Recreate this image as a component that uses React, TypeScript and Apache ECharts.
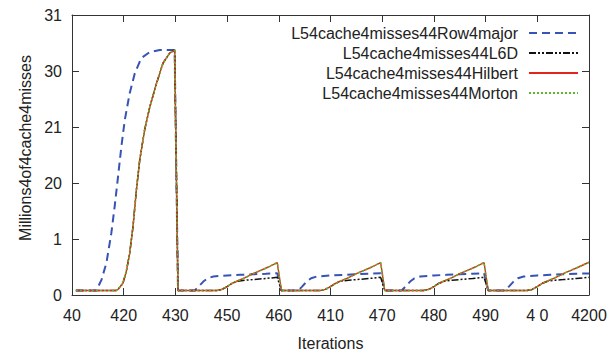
import React, { useEffect, useRef } from "react";
import * as echarts from "echarts";

const iterTickLabels = ["40", "420", "430", "450", "460", "410", "470", "480", "490", "4 0", "4200"];
const missTickLabels = ["0", "1", "20", "21", "30", "31"];
const seriesNames = [
  "L54cache4misses44Row4major",
  "L54cache4misses44L6D",
  "L54cache4misses44Hilbert",
  "L54cache4misses44Morton",
];

const rowMajor: number[][] = [
  [1.5, 0.8], [9.4, 0.8], [11.4, 2.7], [13.3, 5.7], [15.2, 11.0], [16.5, 15.8], [17.8, 21.1], [19.1, 26.5],
  [20.4, 31.2], [22.3, 36.0], [24.3, 39.6], [26.8, 42.3], [30.1, 43.4], [34.0, 43.75], [39.7, 43.75],
  [41, 0.8], [47.5, 0.8], [49, 1.5], [50.8, 2.4], [52.5, 3.0], [54.7, 3.3], [60, 3.5], [65, 3.6], [70, 3.7], [75, 3.8], [79.4, 3.9],
  [81, 0.8], [87.5, 0.8], [89, 1.5], [90.8, 2.4], [92.5, 3.0], [94.7, 3.3], [100, 3.5], [105, 3.6], [110, 3.7], [115, 3.8], [119.4, 3.9],
  [121, 0.8], [127.5, 0.8], [129, 1.5], [130.8, 2.4], [132.5, 3.0], [134.7, 3.3], [140, 3.5], [145, 3.6], [150, 3.7], [155, 3.8], [159.4, 3.9],
  [161, 0.8], [167.5, 0.8], [169, 1.5], [170.8, 2.4], [172.5, 3.0], [174.7, 3.3], [180, 3.5], [185, 3.6], [190, 3.7], [195, 3.8], [200, 3.85],
];

const l6d: number[][] = [
  [1.5, 0.8], [17.0, 0.8], [17.8, 1.0], [19.7, 2.1], [21.0, 4.2], [22.3, 7.4], [23.6, 12.2], [24.9, 18.7],
  [26.2, 24.1], [28.1, 29.5], [30.1, 33.6], [32.7, 37.8], [35.2, 41.4], [37.8, 43.2], [39.7, 43.75],
  [41, 0.8], [56, 0.8], [58, 1.0], [60, 1.5], [62, 2.1], [64, 2.45], [67, 2.65], [70, 2.75], [75, 2.95], [79.4, 3.15],
  [81, 0.8], [96, 0.8], [98, 1.0], [100, 1.5], [102, 2.1], [104, 2.45], [107, 2.65], [110, 2.75], [115, 2.95], [119.4, 3.15],
  [121, 0.8], [136, 0.8], [138, 1.0], [140, 1.5], [142, 2.1], [144, 2.45], [147, 2.65], [150, 2.75], [155, 2.95], [159.4, 3.15],
  [161, 0.8], [176, 0.8], [178, 1.0], [180, 1.5], [182, 2.1], [184, 2.45], [187, 2.65], [190, 2.75], [195, 2.95], [200, 3.15],
];

const hilbert: number[][] = [
  [1.5, 0.8], [17.0, 0.8], [17.8, 1.0], [19.7, 2.1], [21.0, 4.2], [22.3, 7.4], [23.6, 12.2], [24.9, 18.7],
  [26.2, 24.1], [28.1, 29.5], [30.1, 33.6], [32.7, 37.8], [35.2, 41.4], [37.8, 43.2], [39.7, 43.75],
  [41, 0.8], [56, 0.8], [58, 1.0], [60, 1.5], [62, 2.1], [64, 2.5], [67, 3.1], [70, 3.8], [73, 4.4], [76, 5.0], [79.4, 5.8],
  [81, 0.8], [96, 0.8], [98, 1.0], [100, 1.5], [102, 2.1], [104, 2.5], [107, 3.1], [110, 3.8], [113, 4.4], [116, 5.0], [119.4, 5.8],
  [121, 0.8], [136, 0.8], [138, 1.0], [140, 1.5], [142, 2.1], [144, 2.5], [147, 3.1], [150, 3.8], [153, 4.4], [156, 5.0], [159.4, 5.8],
  [161, 0.8], [176, 0.8], [178, 1.0], [180, 1.5], [182, 2.1], [184, 2.5], [187, 3.1], [190, 3.8], [193, 4.4], [196, 5.0], [200, 5.85],
];

const morton: number[][] = [
  [1.5, 0.8], [17.0, 0.8], [17.8, 1.0], [19.7, 2.1], [21.0, 4.2], [22.3, 7.4], [23.6, 12.2], [24.9, 18.7],
  [26.2, 24.1], [28.1, 29.5], [30.1, 33.6], [32.7, 37.8], [35.2, 41.4], [37.8, 43.2], [39.7, 43.75],
  [41, 0.8], [56, 0.8], [58, 1.0], [60, 1.5], [62, 2.1], [64, 2.5], [67, 3.1], [70, 3.8], [73, 4.4], [76, 5.0], [79.4, 5.8],
  [81, 0.8], [96, 0.8], [98, 1.0], [100, 1.5], [102, 2.1], [104, 2.5], [107, 3.1], [110, 3.8], [113, 4.4], [116, 5.0], [119.4, 5.8],
  [121, 0.8], [136, 0.8], [138, 1.0], [140, 1.5], [142, 2.1], [144, 2.5], [147, 3.1], [150, 3.8], [153, 4.4], [156, 5.0], [159.4, 5.8],
  [161, 0.8], [176, 0.8], [178, 1.0], [180, 1.5], [182, 2.1], [184, 2.5], [187, 3.1], [190, 3.8], [193, 4.4], [196, 5.0], [200, 5.85],
];

const FONT = "Liberation Sans";
const AXIS_COLOR = "#333";
const TEXT_COLOR = "#222";

export default function App() {
  const ref = useRef<HTMLDivElement>(null);
  useEffect(() => {
    if (!ref.current) return;
    const chart = echarts.init(ref.current, undefined, { renderer: "svg" });
    const seriesStyles = [
      { color: "#3653b5", width: 2, type: [8, 5] as any },
      { color: "#111111", width: 1.5, type: [7, 2, 2, 2, 2, 2] as any },
      { color: "#e3241c", width: 1.4, type: "solid" as any },
      { color: "#5cb82a", width: 1.6, type: [2, 2] as any },
    ];
    const datas = [rowMajor, l6d, hilbert, morton];
    const tickCommon = { show: true, inside: true, length: 7, lineStyle: { color: AXIS_COLOR, width: 1 } };
    const lineCommon = { show: true, onZero: false, lineStyle: { color: AXIS_COLOR, width: 1 } };
    chart.setOption({
      animation: false,
      backgroundColor: "#ffffff",
      textStyle: { fontFamily: FONT },
      grid: { left: 72, right: 24, top: 15, bottom: 61, containLabel: false },
      legend: seriesNames.map((n, i) => ({
        data: [n],
        right: 34,
        top: 25 + 20 * i,
        orient: "horizontal",
        align: "right",
        itemWidth: 49,
        itemHeight: 14,
        itemGap: 0,
        padding: 0,
        selectedMode: false,
        itemStyle: { opacity: 0 },
        textStyle: { fontSize: 16, color: TEXT_COLOR, fontFamily: FONT, padding: [0, 6, 0, 0] },
      })),
      xAxis: [
        {
          type: "value",
          min: 0,
          max: 200,
          interval: 20,
          position: "bottom",
          name: "Iterations",
          nameLocation: "middle",
          nameGap: 40,
          nameTextStyle: { fontSize: 16, color: TEXT_COLOR, fontFamily: FONT },
          axisLine: lineCommon,
          axisTick: tickCommon,
          splitLine: { show: false },
          axisLabel: {
            fontSize: 16,
            color: TEXT_COLOR,
            fontFamily: FONT,
            margin: 12,
            formatter: (v: number) => iterTickLabels[Math.round(v / 20)] ?? "",
          },
        },
        {
          type: "value",
          min: 0,
          max: 200,
          interval: 20,
          position: "top",
          axisLine: lineCommon,
          axisTick: tickCommon,
          splitLine: { show: false },
          axisLabel: { show: false },
        },
      ],
      yAxis: [
        {
          type: "value",
          min: 0,
          max: 50,
          interval: 10,
          position: "left",
          name: "Millions4of4cache4misses",
          nameLocation: "middle",
          nameGap: 36,
          nameTextStyle: { fontSize: 16, color: TEXT_COLOR, fontFamily: FONT, padding: [0, 0, 0, 14] },
          axisLine: lineCommon,
          axisTick: tickCommon,
          splitLine: { show: false },
          axisLabel: {
            fontSize: 16,
            color: TEXT_COLOR,
            fontFamily: FONT,
            margin: 10,
            formatter: (v: number) => missTickLabels[Math.round(v / 10)] ?? "",
          },
        },
        {
          type: "value",
          min: 0,
          max: 50,
          interval: 10,
          position: "right",
          axisLine: lineCommon,
          axisTick: tickCommon,
          splitLine: { show: false },
          axisLabel: { show: false },
        },
      ],
      series: seriesNames.map((n, i) => ({
        name: n,
        type: "line",
        xAxisIndex: 0,
        yAxisIndex: 0,
        data: datas[i],
        symbol: "none",
        showSymbol: false,
        smooth: false,
        z: 2 + i,
        color: seriesStyles[i].color,
        lineStyle: seriesStyles[i],
      })),
    });
    return () => chart.dispose();
  }, []);
  return (
    <div style={{ position: "fixed", left: 0, top: 0, width: 613, height: 356, background: "#fff" }}>
      <div ref={ref} style={{ width: 613, height: 356 }} />
    </div>
  );
}
